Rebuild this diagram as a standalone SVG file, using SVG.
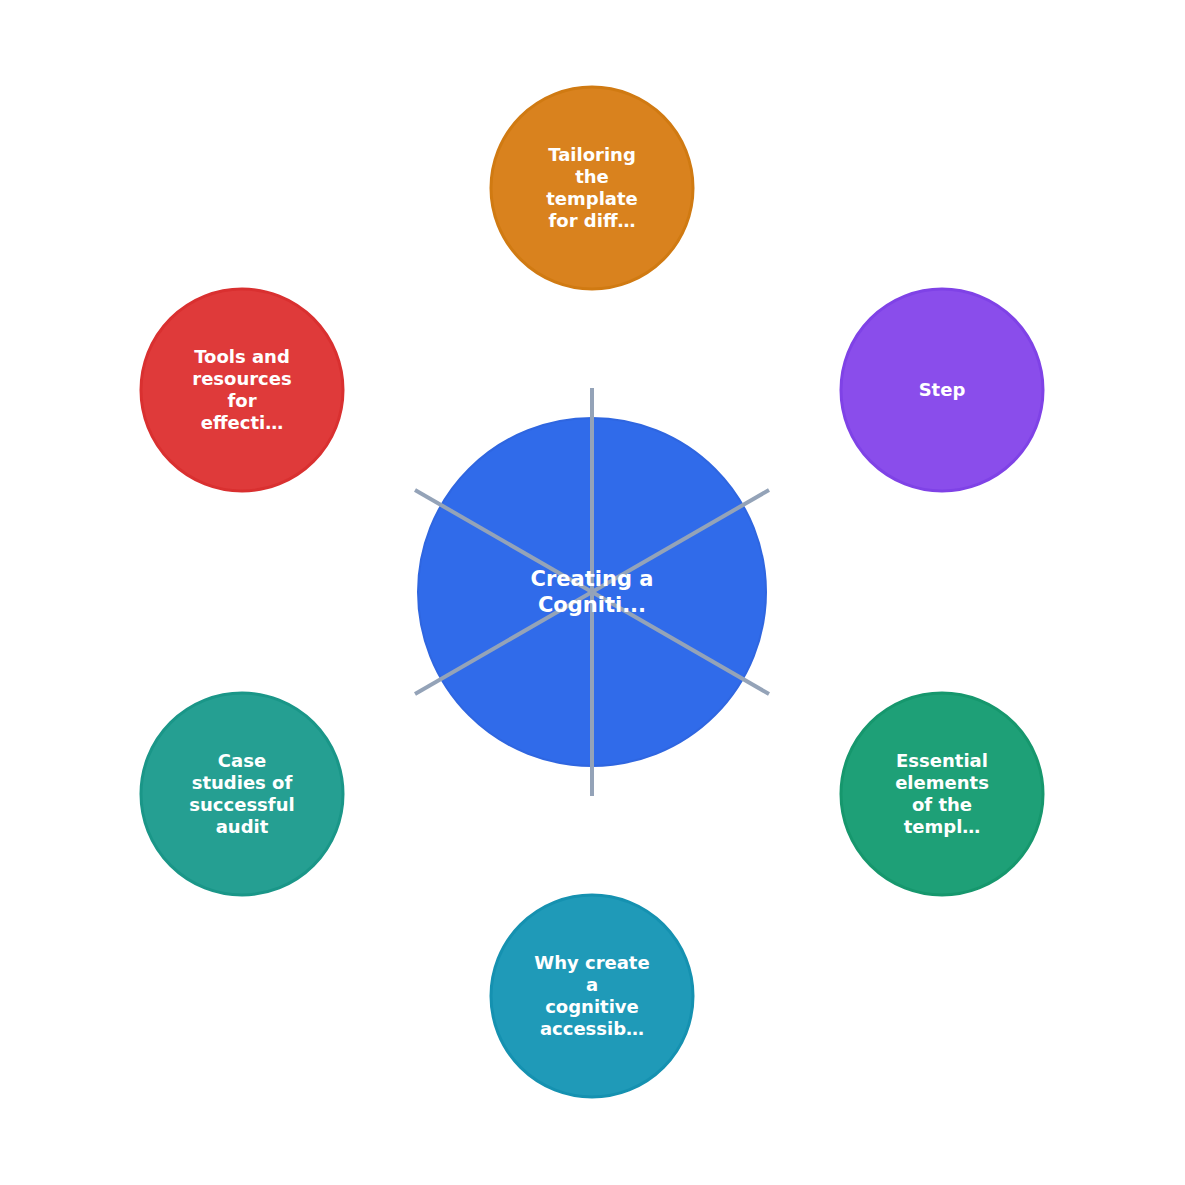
<svg xmlns="http://www.w3.org/2000/svg" width="1185" height="1185" viewBox="0 0 1185 1185">
<style>
text{font-family:"DejaVu Sans",sans-serif;font-weight:bold;fill:#fff;text-anchor:middle}
.s{font-size:18px}
.c{font-size:21px}
.e{stroke:#94A3B8;stroke-width:4}
</style>
<rect width="1185" height="1185" fill="#fff"/>
<g id="center"><circle cx="592" cy="592" r="174" fill="#306BEA" stroke="#2F66E0" stroke-width="2"/></g>
<g id="connectors">
<line class="e" x1="592" y1="592" x2="592" y2="388"/>
<line class="e" x1="592" y1="592" x2="592" y2="796"/>
<line class="e" x1="592" y1="592" x2="769" y2="490"/>
<line class="e" x1="592" y1="592" x2="415" y2="490"/>
<line class="e" x1="592" y1="592" x2="769" y2="694"/>
<line class="e" x1="592" y1="592" x2="415" y2="694"/>
</g>
<g id="center-label"><text class="c" x="592" y="586">Creating a</text><text class="c" x="592" y="612">Cogniti...</text></g>
<g id="n1"><circle cx="592" cy="188" r="101" fill="#D9821E" stroke="#D07A12" stroke-width="3"/>
<text class="s" x="592" y="161">Tailoring</text><text class="s" x="592" y="183">the</text><text class="s" x="592" y="205">template</text><text class="s" x="592" y="227">for diff…</text></g>
<g id="n2"><circle cx="942" cy="390" r="101" fill="#8A4DEB" stroke="#7F42E6" stroke-width="3"/>
<text class="s" x="942" y="396">Step</text></g>
<g id="n3"><circle cx="942" cy="794" r="101" fill="#1EA077" stroke="#16976D" stroke-width="3"/>
<text class="s" x="942" y="767">Essential</text><text class="s" x="942" y="789">elements</text><text class="s" x="942" y="811">of the</text><text class="s" x="942" y="833">templ…</text></g>
<g id="n4"><circle cx="592" cy="996" r="101" fill="#1F9AB8" stroke="#1591B0" stroke-width="3"/>
<text class="s" x="592" y="969">Why create</text><text class="s" x="592" y="991">a</text><text class="s" x="592" y="1013">cognitive</text><text class="s" x="592" y="1035">accessib…</text></g>
<g id="n5"><circle cx="242" cy="794" r="101" fill="#259F92" stroke="#1A9688" stroke-width="3"/>
<text class="s" x="242" y="767">Case</text><text class="s" x="242" y="789">studies of</text><text class="s" x="242" y="811">successful</text><text class="s" x="242" y="833">audit</text></g>
<g id="n6"><circle cx="242" cy="390" r="101" fill="#DF3A3A" stroke="#D93030" stroke-width="3"/>
<text class="s" x="242" y="363">Tools and</text><text class="s" x="242" y="385">resources</text><text class="s" x="242" y="407">for</text><text class="s" x="242" y="429">effecti…</text></g>
</svg>
